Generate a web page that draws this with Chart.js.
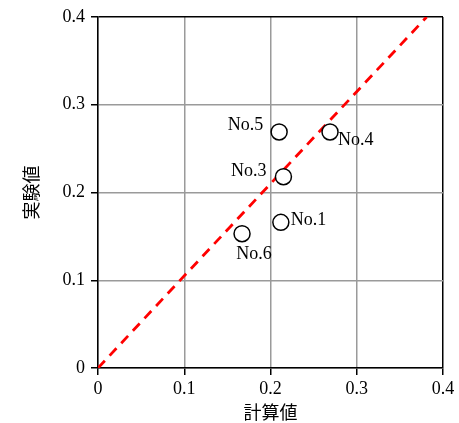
<!DOCTYPE html>
<html lang="ja">
<head>
  <meta charset="UTF-8" />
  <title>計算値 vs 実験値</title>
  <script src="https://cdn.jsdelivr.net/npm/chart.js"></script>
  <style>
    html, body { margin: 0; padding: 0; background: #fff; }
    #wrap { width: 459px; height: 423px; }
  </style>
</head>
<body>
  <div id="wrap"><canvas id="chart" width="459" height="423"></canvas></div>
  <script>
    // sample names and values
    const names = ['No.1', 'No.3', 'No.4', 'No.5', 'No.6'];
    const calcValues = [0.212, 0.215, 0.269, 0.210, 0.167];
    const expValues = [0.166, 0.218, 0.269, 0.269, 0.153];
    // reference line (dashed red)
    const lineX = [0, 0.381];
    const lineY = [0, 0.4];
    const axisTicks = [0, 0.1, 0.2, 0.3, 0.4];

    // label placement around each marker: [dx, dy, align]
    const labelPos = {
      'No.1': [10, -2, 'left'],
      'No.3': [-17, -5, 'right'],
      'No.4': [8, 8, 'left'],
      'No.5': [-16, -7, 'right'],
      'No.6': [12, 21, 'center']
    };

    const serif = '"Liberation Serif", "Times New Roman", serif';
    const cjk = '"Noto Sans CJK JP", sans-serif';

    const pointLabels = {
      id: 'pointLabels',
      afterDatasetsDraw(chart) {
        const { ctx, scales: { x, y } } = chart;
        ctx.save();
        ctx.font = '18px ' + serif;
        ctx.fillStyle = '#000';
        ctx.textBaseline = 'middle';
        names.forEach((n, i) => {
          const [dx, dy, align] = labelPos[n];
          ctx.textAlign = align;
          ctx.fillText(n, x.getPixelForValue(calcValues[i]) + dx, y.getPixelForValue(expValues[i]) + dy);
        });
        ctx.restore();
      }
    };

    const gridColor = c => (c.tick && (c.tick.value === 0.4)) ? '#000' : '#9a9a9a';

    new Chart(document.getElementById('chart'), {
      type: 'scatter',
      data: {
        datasets: [
          {
            data: calcValues.map((v, i) => ({ x: v, y: expValues[i] })),
            pointRadius: 8,
            pointHoverRadius: 8,
            pointBackgroundColor: '#fff',
            pointBorderColor: '#000',
            pointBorderWidth: 1.5,
            showLine: false,
            order: 0
          },
          {
            data: lineX.map((v, i) => ({ x: v, y: lineY[i] })),
            showLine: true,
            borderColor: '#ff0000',
            borderWidth: 2.8,
            borderDash: [10, 7],
            pointRadius: 0,
            fill: false,
            order: 1
          }
        ]
      },
      options: {
        responsive: false,
        animation: false,
        layout: { padding: { left: 20, right: 16, top: 17, bottom: 0 } },
        plugins: { legend: { display: false }, tooltip: { enabled: false } },
        scales: {
          x: {
            type: 'linear',
            min: 0, max: 0.4,
            afterBuildTicks: s => { s.ticks = axisTicks.map(v => ({ value: v })); },
            afterFit: s => { s.height = 55; },
            ticks: {
              color: '#000',
              font: { family: serif, size: 18 },
              padding: 3,
              maxRotation: 0,
              callback: v => String(+v.toFixed(1))
            },
            grid: { color: gridColor, lineWidth: 1.5, tickLength: 7, tickColor: '#000' },
            border: { color: '#000', width: 1.5 },
            title: {
              display: true,
              text: '計算値',
              color: '#000',
              font: { family: cjk, size: 18 },
              padding: { top: 0, bottom: 0 }
            }
          },
          y: {
            type: 'linear',
            min: 0, max: 0.4,
            afterBuildTicks: s => { s.ticks = axisTicks.map(v => ({ value: v })); },
            afterFit: s => { s.width = 78; },
            ticks: {
              color: '#000',
              font: { family: serif, size: 18 },
              padding: 6,
              callback: v => String(+v.toFixed(1))
            },
            grid: { color: gridColor, lineWidth: 1.5, tickLength: 7, tickColor: '#000' },
            border: { color: '#000', width: 1.5 },
            title: {
              display: true,
              text: '実験値',
              color: '#000',
              font: { family: cjk, size: 18 },
              padding: { top: 0, bottom: 0 }
            }
          }
        }
      },
      plugins: [pointLabels]
    });
  </script>
</body>
</html>
